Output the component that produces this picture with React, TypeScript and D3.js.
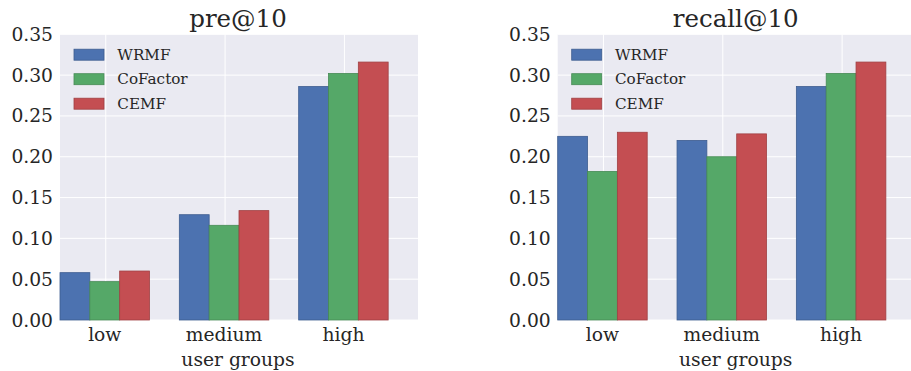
import React from "react";
import { scaleLinear, range } from "d3";

const groups = ["low", "medium", "high"];
const methods = ["WRMF", "CoFactor", "CEMF"];
const colors = ["#4C72B0", "#55A868", "#C44E52"];
const edgeColors = ["#3d5d90", "#468a55", "#a04043"];
const yTicks = [0, 0.05, 0.1, 0.15, 0.2, 0.25, 0.3, 0.35];

// values per method, one entry per user group
const preWRMF = [0.058, 0.129, 0.286];
const preCoFactor = [0.047, 0.116, 0.302];
const preCEMF = [0.06, 0.134, 0.316];

const recallWRMF = [0.225, 0.22, 0.286];
const recallCoFactor = [0.182, 0.2, 0.302];
const recallCEMF = [0.23, 0.228, 0.316];

const barWidth = 0.25;
const font = "'DejaVu Serif', serif";
const textColor = "#262626";

const Panel = ({ title, series, left }) => {
  const width = 358;
  const top = 34.3;
  const bottom = 320;

  const x = scaleLinear().domain([0, 3]).range([left, left + width]);
  const y = scaleLinear().domain([0, 0.35]).range([bottom, top]);

  return (
    <g>
      <rect x={left} y={top} width={width} height={bottom - top} fill="#EAEAF2" />
      {/* grid */}
      {yTicks.map(t => (
        <line key={"h" + t} x1={left} x2={left + width} y1={y(t)} y2={y(t)} stroke="#fff" strokeWidth={1} />
      ))}
      {range(groups.length).map(i => (
        <line key={"v" + i} x1={x(i + 0.375) + 1} x2={x(i + 0.375) + 1} y1={top} y2={bottom} stroke="#fff" strokeWidth={1} />
      ))}

      {/* bars */}
      {series.map((vals, k) =>
        vals.map((v, i) => (
          <rect
            key={k + "-" + i}
            x={x(i + k * barWidth)}
            y={y(v)}
            width={x(barWidth) - x(0)}
            height={y(0) - y(v)}
            fill={colors[k]}
            stroke={edgeColors[k]}
            strokeWidth={0.8}
          />
        ))
      )}

      {/* y tick labels */}
      {yTicks.map(t => (
        <text
          key={"yt" + t}
          x={left - 7}
          y={y(t)}
          textAnchor="end"
          dominantBaseline="central"
          fontFamily={font}
          fontSize={18.7}
          fill={textColor}
        >
          {t.toFixed(2)}
        </text>
      ))}

      {/* x tick labels */}
      {groups.map((g, i) => (
        <text
          key={g}
          x={x(i + 0.375)}
          y={341}
          textAnchor="middle"
          fontFamily={font}
          fontSize={18.7}
          fill={textColor}
        >
          {g}
        </text>
      ))}
      <text x={left + width / 2 - 1} y={366} textAnchor="middle" fontFamily={font} fontSize={18.7} fill={textColor}>
        user groups
      </text>
      <text x={left + width / 2 - 1} y={27} textAnchor="middle" fontFamily={font} fontSize={24.5} fill={textColor}>
        {title}
      </text>

      {/* legend */}
      {methods.map((m, k) => (
        <g key={m} transform={`translate(${left + 14},${54.7 + k * 24.5})`}>
          <rect x={0} y={-5.5} width={30} height={11} fill={colors[k]} stroke={edgeColors[k]} strokeWidth={0.8} />
          <text x={43.3} y={0} dominantBaseline="central" fontFamily={font} fontSize={15.2} fill={textColor}>
            {m}
          </text>
        </g>
      ))}
    </g>
  );
};

export default function App() {
  return (
    <div style={{ position: "absolute", left: 0, top: 0 }}>
      <svg width={911} height={371} style={{ display: "block", background: "#fff" }}>
        <Panel title="pre@10" series={[preWRMF, preCoFactor, preCEMF]} left={60} />
        <Panel title="recall@10" series={[recallWRMF, recallCoFactor, recallCEMF]} left={557.7} />
      </svg>
    </div>
  );
}
